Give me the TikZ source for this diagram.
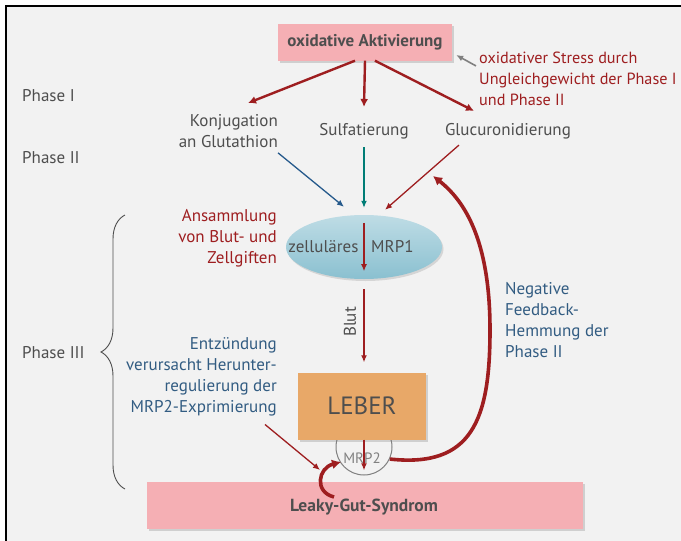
\documentclass[tikz,border=0pt]{standalone}
\usepackage{fontspec}
\setmainfont{PT Sans}
\usetikzlibrary{positioning,arrows.meta,calc,shapes.geometric,decorations.pathreplacing,shadows}
\definecolor{bggray}{RGB}{242,242,242}
\definecolor{txtgray}{RGB}{78,78,78}
\definecolor{darkred}{RGB}{158,30,32}
\definecolor{bluetxt}{RGB}{50,92,130}
\definecolor{bluearr}{RGB}{38,90,140}
\definecolor{tealarr}{RGB}{0,125,118}
\definecolor{softpink}{RGB}{245,175,180}
\definecolor{mrpblue}{RGB}{138,192,208}
\definecolor{leberorange}{RGB}{232,168,104}
\begin{document}
\begin{tikzpicture}[x=1pt,y=-1pt,
 box/.style={inner sep=0pt,font=\fontsize{17}{20}\selectfont\bfseries,text=txtgray,drop shadow={shadow xshift=1.5pt,shadow yshift=-2pt,opacity=.3}},
 lbl/.style={inner sep=0pt,font=\fontsize{17}{21}\selectfont,text=txtgray},
 arr/.style={-{Latex[length=8pt,width=8pt]},line width=2.4pt,draw=darkred},
 thinarr/.style={-{Latex[length=7pt,width=6pt]},line width=1.3pt},
 fat/.style={-{Latex[length=9pt,width=10pt]},line width=3.6pt,draw=darkred}]
\useasboundingbox(0,0)rectangle(681,541);
\fill[white](0,0)rectangle(681,541);\fill[bggray](6,6)rectangle(681,541);
\draw[line width=2pt](6,541)--(6,6)--(681,6);
\node[box,fill=softpink,minimum width=174,minimum height=37] (ox) at (365,42) {oxidative Aktivierung};
\node[lbl,font=\fontsize{16.2}{21}\selectfont,text=darkred,align=left,anchor=west] (stress) at (479,79) {oxidativer Stress durch\\Ungleichgewicht der Phase I\\und Phase II};
\draw[thinarr,draw=gray,line width=1.6pt]($(stress.north west)+(-3,14)$)--($(ox.east)+(4,13)$);
\node[lbl,anchor=west] (ph1) at (22,96) {Phase I};
\node[lbl,anchor=west] (ph2) at (22,158) {Phase II};
\node[lbl,anchor=west] (ph3) at (22,353) {Phase III};
\node[lbl,align=right,anchor=east] (konj) at (278,131) {Konjugation\\an Glutathion};
\node[lbl] (sulf) at (364,131) {Sulfatierung};
\node[lbl] (glu) at (508,131) {Glucuronidierung};
\draw[arr]($(ox.south)+(-10,0)$)--(248,103);\draw[arr](ox.south)--($(sulf.north)+(0,-16)$);
\draw[arr]($(ox.south)+(10,0)$)--($(glu.north)+(-34,-12)$);
\node[ellipse,top color=mrpblue!55!white,bottom color=mrpblue,minimum width=156,minimum height=64,inner sep=0pt,drop shadow={shadow xshift=1.5pt,shadow yshift=-2pt,opacity=.25}] (mrp1) at (364,247) {};
\node[lbl] (mrp1l) at (351,247) {zelluläres\hspace{.75em}MRP1};
\draw[thinarr,draw=bluearr]($(konj.south east)+(0,5)$)--($(mrp1.north)+(-20,-8)$);
\draw[thinarr,draw=tealarr]($(sulf.south)+(0,8)$)--($(mrp1.north)+(0,-7)$);
\draw[thinarr,draw=darkred]($(glu.south)+(-49,6)$)--($(mrp1.north)+(21,-5)$);
\draw[thinarr,draw=darkred]($(mrp1.north)+(0,8)$)--($(mrp1.south)+(0,-8)$);
\node[lbl,text=darkred,align=right,anchor=east] (gifte) at (277,238) {Ansammlung\\von Blut- und\\Zellgiften};
\node[lbl,rotate=90] (blut) at (350,322) {Blut};
\node[circle,draw=gray,line width=1pt,minimum size=56] (mrp2) at (364,447) {};
\node[lbl,font=\fontsize{15}{17}\selectfont,text=gray] (mrp2l) at (362,458) {MRP2};
\node[box,fill=softpink,minimum width=436,minimum height=47] (leaky) at (365,505) {};
\node[box,fill=leberorange,minimum width=128,minimum height=67,font=\fontsize{25}{28}\selectfont] (leber) at (362,406) {LEBER};
\node[lbl,font=\fontsize{17.5}{20}\selectfont\bfseries] (leakyl) at (364,507) {Leaky-Gut-Syndrom};
\draw[thinarr,draw=darkred]($(mrp1.south)+(0,10)$)--($(leber.north)+(2,-10)$);
\draw[thinarr,draw=darkred]($(leber.south)+(2,0)$)--($(leaky.north)+(-1,-11)$);
\node[lbl,text=bluetxt,align=right,anchor=east] (entz) at (277,377) {Entzündung\\verursacht Herunter-\\regulierung der\\MRP2-Exprimierung};
\draw[thinarr,draw=darkred]($(entz.south east)+(-12,8)$)--(320,470);
\draw[fat](334,497)..controls(314,492)and(318,468)..(341,462);
\node[lbl,text=bluetxt,align=left,anchor=west] (feedb) at (505,320) {Negative\\Feedback-\\Hemmung der\\Phase II};
\coordinate (fbend) at (433,176);
\draw[fat](mrp2.-25)..controls(472,468)and(490,420)..(490,330)..controls(490,250)and(470,205)..(fbend);
\draw[txtgray,line width=.9pt,decorate,decoration={brace,amplitude=24pt}](125,489)--(125,215);
\end{tikzpicture}
\end{document}
